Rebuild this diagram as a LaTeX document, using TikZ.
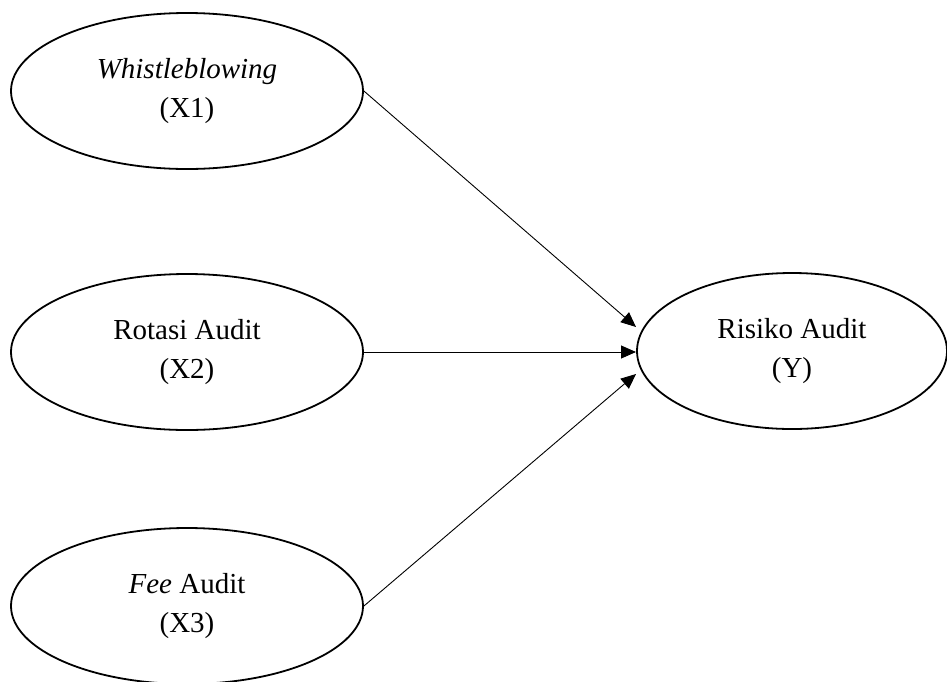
\documentclass[tikz,border=0pt]{standalone}
\usepackage{fontspec}
\setmainfont{Liberation Serif}
\usetikzlibrary{shapes.geometric,arrows.meta}
\tikzset{
	var/.style={ellipse,draw,line width=1.8pt,inner sep=0pt,
		minimum width=352pt,minimum height=156pt,align=center,
		font=\fontsize{29}{39}\selectfont},
}
\begin{document}
\begin{tikzpicture}[x=1pt,y=-1pt,>={Triangle[length=15pt,width=13pt]}]
	
	\useasboundingbox (0,0) rectangle (947,681);
	
	% The variables
	\node[var] (X1) at (187,91) {\textit{Whistleblowing}\\(X1)};
	\node[var] (X2) at (187,352) {Rotasi Audit\\(X2)};
	\node[var] (X3) at (187,606) {\textit{Fee} Audit\\(X3)};
	\node[var,minimum width=310pt] (Y) at (792,351) {Risiko Audit\\(Y)};
	
	% The arrow ends
	\coordinate (y1) at (636,327);
	\coordinate (y2) at (636,352);
	\coordinate (y3) at (636,374);
	
	% The arrows
	\draw[->,line width=0.9pt] (X1.east) -- (y1);
	\draw[->,line width=0.9pt] (X2.east) -- (y2);
	\draw[->,line width=0.9pt] (X3.east) -- (y3);
	
\end{tikzpicture}
\end{document}
